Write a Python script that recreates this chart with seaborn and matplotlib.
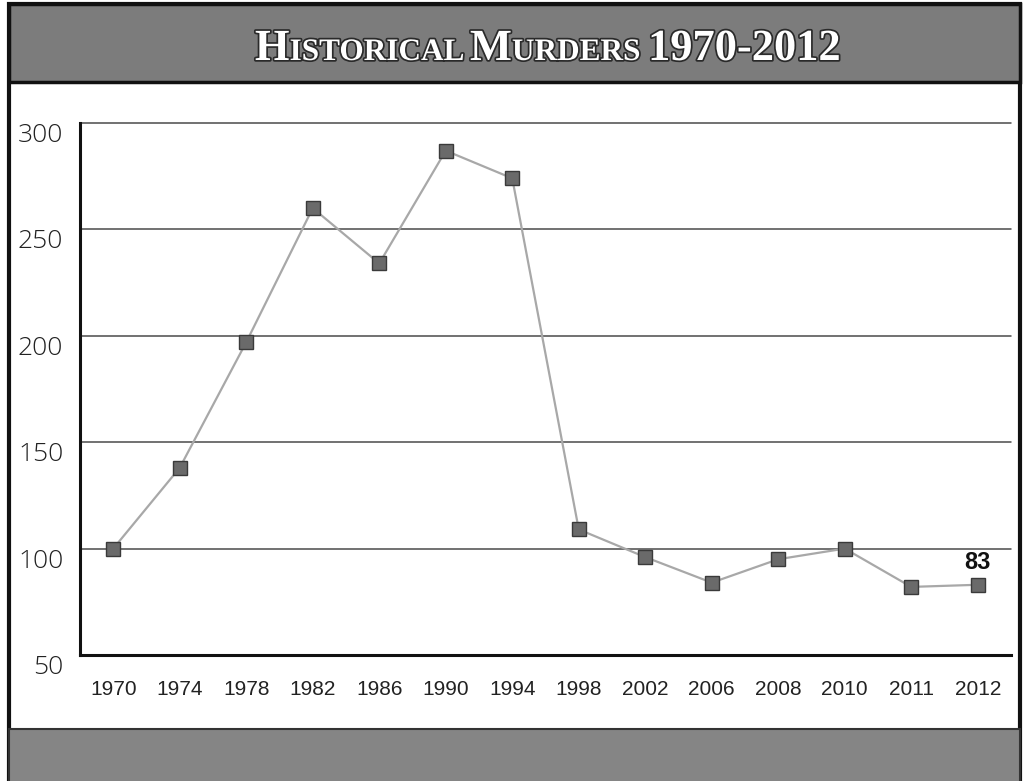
import numpy as np
import pandas as pd
import matplotlib
matplotlib.use("Agg")
import matplotlib.pyplot as plt
import matplotlib.patheffects as pe
from matplotlib.patches import Rectangle
import seaborn as sns

# ---- data ----
years = ["1970", "1974", "1978", "1982", "1986", "1990", "1994",
         "1998", "2002", "2006", "2008", "2010", "2011", "2012"]
murders = [100, 138, 197, 260, 234, 287, 274, 109, 96, 84, 95, 100, 82, 83]
y_ticks = [50, 100, 150, 200, 250, 300]
title_parts = [("H", True), ("ISTORICAL ", False), ("M", True), ("URDERS ", False), ("1970-2012", True)]
last_label = "83"

sns.set_theme(style="white")
plt.rcParams['font.family'] = ['Noto Sans', 'DejaVu Sans']

W, H = 1027, 781
fig = plt.figure(figsize=(W / 100, H / 100), dpi=100)
fig.patch.set_facecolor("white")

def fx(px):
    return px / W

def fy(py):
    return 1 - py / H

def rect(x0, y0, x1, y1, **kw):
    r = Rectangle((fx(x0), fy(y1)), fx(x1) - fx(x0), fy(y0) - fy(y1),
                  transform=fig.transFigure, **kw)
    fig.patches.append(r)
    return r

# frame: white panel, title band, bottom band
rect(9, 4, 1020, 790, facecolor="white", edgecolor="#111111", linewidth=3, zorder=-3)
rect(9, 4, 1020, 82, facecolor="#7c7c7c", edgecolor="#111111", linewidth=2.5, zorder=-2)
rect(9, 729, 1020, 790, facecolor="#858585", edgecolor="#333333", linewidth=1.5, zorder=-2)

# ---- axes ----
ax = fig.add_axes([fx(80), fy(655), fx(1011) - fx(80), fy(123) - fy(655)])
ax.set_zorder(2)
ax.patch.set_alpha(0)
df = pd.DataFrame({"pos": np.arange(len(years)), "murders": murders})
sns.lineplot(data=df, x="pos", y="murders", ax=ax, color="#a8a8a8", linewidth=1.6,
             marker="s", markersize=10, markerfacecolor="#6a6a6a",
             markeredgecolor="#3a3a3a", markeredgewidth=1.0, zorder=5)

ax.set_xlim(-0.5, 13.5)
ax.set_ylim(50, 300)
ax.set_xlabel("")
ax.set_ylabel("")

ax.set_yticks(y_ticks)
ax.set_yticklabels([str(v) for v in y_ticks], fontsize=19, color="#222222",
                   family=['Open Sans', 'Noto Sans', 'DejaVu Sans'], fontweight="light", va="top")
ax.tick_params(axis="y", length=0, pad=12)

ax.set_xticks(np.arange(len(years)))
ax.set_xticklabels(years, fontsize=15, color="#222222",
                   family=['Liberation Sans', 'DejaVu Sans'])
ax.tick_params(axis="x", which="major", length=0, pad=18)
ax.set_xticks(np.arange(len(years)) + 0.5, minor=True)
ax.tick_params(axis="x", which="minor", direction="in", length=9, width=1.2, color="#222222")

for yv in y_ticks[1:]:
    ax.axhline(yv, color="#4a4a4a", linewidth=1.1, zorder=1, clip_on=False)

for s in ["top", "right"]:
    ax.spines[s].set_visible(False)
ax.spines["left"].set_color("#111111")
ax.spines["left"].set_linewidth(2.2)
ax.spines["bottom"].set_color("#111111")
ax.spines["bottom"].set_linewidth(2.2)

ax.annotate(last_label, xy=(len(years) - 1, murders[-1]), xytext=(0, 8),
            textcoords="offset points", ha="center", va="bottom",
            fontsize=17, fontweight="bold", color="#111111",
            family=['Liberation Sans', 'DejaVu Sans'])

# ---- small-caps title ----
renderer = fig.canvas.get_renderer()
big, small = 32, 22.5
texts = []
for s, is_big in title_parts:
    t = fig.text(0, fy(60), s, fontsize=big if is_big else small,
                 family=['Liberation Serif', 'DejaVu Serif'], fontweight="bold",
                 color="white", ha="left", va="baseline", zorder=10,
                 path_effects=[pe.withStroke(linewidth=2.5, foreground="#2a2a2a")])
    texts.append(t)
widths = [t.get_window_extent(renderer=renderer).width for t in texts]
total = sum(widths)
cur = 548 - total / 2
for t, w in zip(texts, widths):
    t.set_x(fx(cur))
    cur += w

fig.savefig("out.png", dpi=100, facecolor="white")
